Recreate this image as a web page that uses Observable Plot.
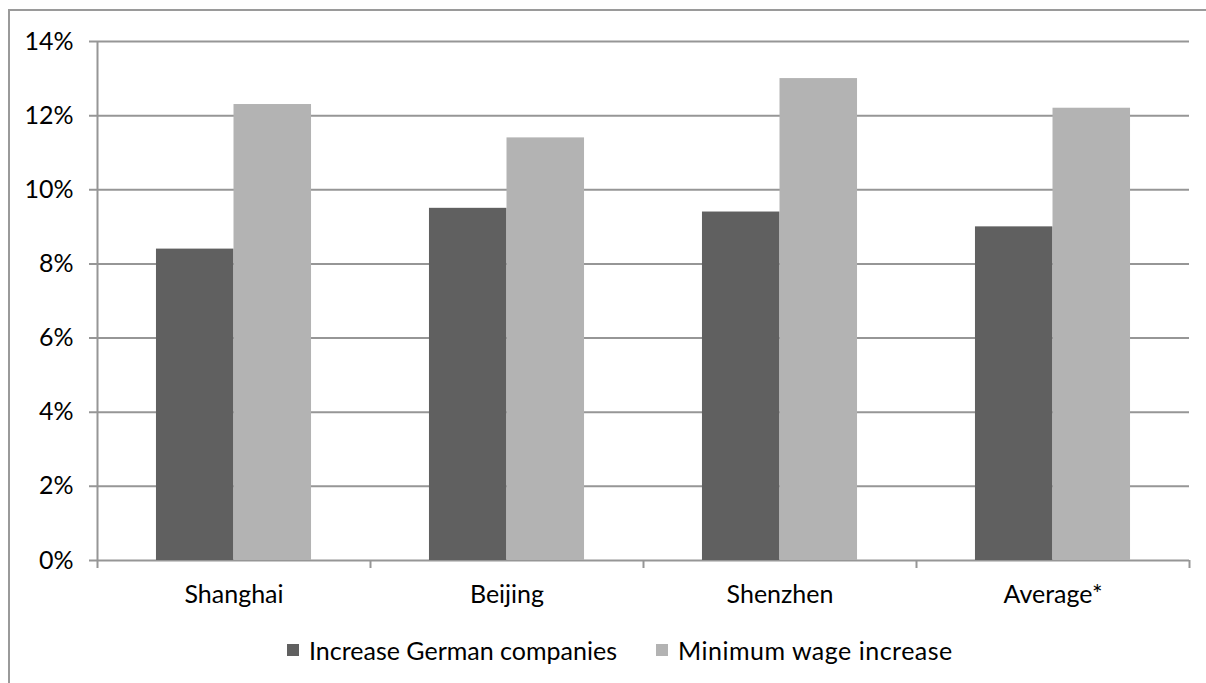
<!DOCTYPE html>
<html>
<head>
<meta charset="utf-8">
<script src="https://cdn.jsdelivr.net/npm/d3@7"></script>
<script src="https://cdn.jsdelivr.net/npm/@observablehq/plot@0.6"></script>
<style>
  html, body { margin: 0; padding: 0; background: #fff; }
  #wrap { position: relative; width: 1206px; height: 683px; overflow: hidden; font-family: Lato, "Open Sans", sans-serif; }
  #frame { position: absolute; left: 8px; top: 9px; width: 1300px; height: 800px; border-top: 2px solid #9a9a9a; border-left: 2px solid #9a9a9a; }
  #chart { position: absolute; left: 0; top: 0; }
  #legend { position: absolute; left: 287px; top: 635px; display: flex; align-items: center; font-size: 25px; color: #000; white-space: nowrap; }
  .item { display: flex; align-items: center; }
  .sw { width: 12px; height: 12px; margin-right: 10px; }
  .item + .item { margin-left: 39px; }
  .item:last-child span:last-child { letter-spacing: 0.5px; }
</style>
</head>
<body>
<div id="wrap">
  <div id="frame"></div>
  <div id="chart"></div>
  <div id="legend"></div>
</div>
<script>
const categories = ["Shanghai", "Beijing", "Shenzhen", "Average*"];
const seriesNames = ["Increase German companies", "Minimum wage increase"];
const germanCompanies = [8.4, 9.5, 9.4, 9.0];
const minimumWage = [12.3, 11.4, 13.0, 12.2];
const yTicks = [0, 2, 4, 6, 8, 10, 12, 14];
const colors = ["#606060", "#b3b3b3"];

const W = 1206, H = 620;
const mL = 97, mR = 17, mT = 41, mB = H - 560;
const bandPad = 0.432;
const step = (W - mL - mR) / categories.length;
const halfBar = step * (1 - bandPad) / 2;

const rows = categories.map((c, i) => ({category: c, german: germanCompanies[i], wage: minimumWage[i]}));

const chart = Plot.plot({
  width: W,
  height: H,
  marginLeft: mL,
  marginRight: mR,
  marginTop: mT,
  marginBottom: mB,
  style: {fontFamily: "Lato, 'Open Sans', sans-serif", fontSize: "25px", color: "#000", background: "transparent"},
  x: {type: "band", domain: categories, paddingInner: bandPad, paddingOuter: bandPad / 2, round: false, axis: null, label: null},
  y: {domain: [0, 14], axis: null, label: null},
  marks: [
    Plot.ruleY(yTicks, {y: d => d, stroke: "#969696", strokeWidth: 2, insetLeft: -8}),
    Plot.barY(rows, {x: "category", y: "german", fill: colors[0], insetRight: halfBar}),
    Plot.barY(rows, {x: "category", y: "wage", fill: colors[1], insetLeft: halfBar}),
    // vertical value axis line at left boundary
    Plot.ruleX([categories[0]], {x: d => d, y1: 14, y2: 0, dx: -step / 2, stroke: "#969696", strokeWidth: 2, insetBottom: -8}),
    // category boundary ticks
    Plot.ruleX(categories, {x: d => d, y1: 0, y2: 0, dx: step / 2, stroke: "#969696", strokeWidth: 2, insetBottom: -8}),
    Plot.axisY(yTicks, {tickSize: 0, tickPadding: 24, tickFormat: d => d + "%", fontSize: 25, fill: "#000", label: null}),
    Plot.axisX(categories, {tickSize: 0, tickPadding: 25, fontSize: 25, fill: "#000", label: null})
  ]
});
document.getElementById("chart").appendChild(chart);

const legend = document.getElementById("legend");
seriesNames.forEach((name, i) => {
  const item = document.createElement("div");
  item.className = "item";
  const sw = document.createElement("span");
  sw.className = "sw";
  sw.style.background = colors[i];
  const label = document.createElement("span");
  label.textContent = name;
  item.appendChild(sw);
  item.appendChild(label);
  legend.appendChild(item);
});
</script>
</body>
</html>
